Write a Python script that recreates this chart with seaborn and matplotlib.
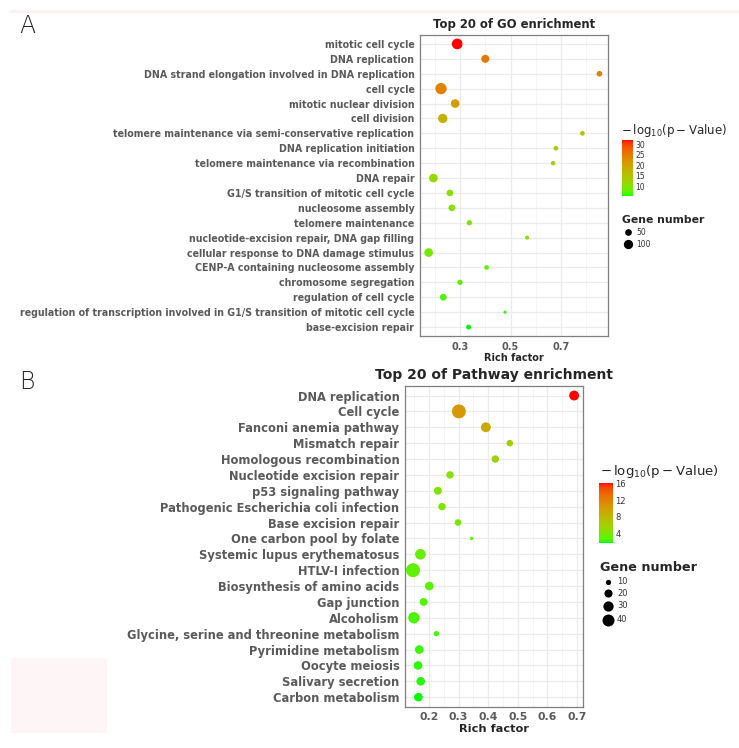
import numpy as np
import pandas as pd
import matplotlib
matplotlib.use("Agg")
import matplotlib.pyplot as plt
from matplotlib.colors import ListedColormap, Normalize
from matplotlib.cm import ScalarMappable
from matplotlib.patches import Rectangle
import seaborn as sns

# GO enrichment (panel A)
go_terms = [
    "mitotic cell cycle",
    "DNA replication",
    "DNA strand elongation involved in DNA replication",
    "cell cycle",
    "mitotic nuclear division",
    "cell division",
    "telomere maintenance via semi-conservative replication",
    "DNA replication initiation",
    "telomere maintenance via recombination",
    "DNA repair",
    "G1/S transition of mitotic cell cycle",
    "nucleosome assembly",
    "telomere maintenance",
    "nucleotide-excision repair, DNA gap filling",
    "cellular response to DNA damage stimulus",
    "CENP-A containing nucleosome assembly",
    "chromosome segregation",
    "regulation of cell cycle",
    "regulation of transcription involved in G1/S transition of mitotic cell cycle",
    "base-excision repair",
]
go_rich = [0.289, 0.400, 0.851, 0.225, 0.281, 0.232, 0.784, 0.679, 0.668, 0.195,
           0.260, 0.268, 0.337, 0.565, 0.176, 0.405, 0.300, 0.234, 0.478, 0.334]
go_logp = [31.9, 25.5, 24.5, 24.0, 21.0, 18.0, 15.0, 14.0, 13.5, 12.0,
           11.0, 10.5, 10.0, 9.5, 9.0, 8.0, 7.5, 7.0, 6.0, 5.6]
go_genes = [133, 73, 34, 150, 86, 100, 22, 22, 20, 86,
            50, 50, 30, 15, 86, 22, 30, 50, 7, 25]

# KEGG pathway enrichment (panel B)
kegg_terms = [
    "DNA replication",
    "Cell cycle",
    "Fanconi anemia pathway",
    "Mismatch repair",
    "Homologous recombination",
    "Nucleotide excision repair",
    "p53 signaling pathway",
    "Pathogenic Escherichia coli infection",
    "Base excision repair",
    "One carbon pool by folate",
    "Systemic lupus erythematosus",
    "HTLV-I infection",
    "Biosynthesis of amino acids",
    "Gap junction",
    "Alcoholism",
    "Glycine, serine and threonine metabolism",
    "Pyrimidine metabolism",
    "Oocyte meiosis",
    "Salivary secretion",
    "Carbon metabolism",
]
kegg_rich = [0.690, 0.301, 0.392, 0.473, 0.424, 0.271, 0.230, 0.244, 0.298, 0.344,
             0.171, 0.146, 0.201, 0.182, 0.149, 0.225, 0.167, 0.163, 0.172, 0.164]
kegg_logp = [16.3, 10.5, 9.0, 6.0, 5.5, 4.5, 4.2, 4.0, 3.8, 3.5,
             3.2, 3.0, 2.8, 2.6, 2.5, 2.3, 2.1, 2.0, 1.9, 1.7]
kegg_genes = [28, 53, 28, 14, 17, 17, 19, 17, 14, 6,
              32, 53, 22, 19, 36, 10, 22, 22, 22, 22]


# green -> red ramp interpolated in Lab space (like ggplot's gradient)
M = np.array([[0.4124, 0.3576, 0.1805],
              [0.2126, 0.7152, 0.0722],
              [0.0193, 0.1192, 0.9505]])
WHITE = np.array([0.95047, 1.0, 1.08883])


def to_lab(rgb):
    rgb = np.asarray(rgb, float)
    lin = np.where(rgb <= 0.04045, rgb / 12.92, ((rgb + 0.055) / 1.055) ** 2.4)
    xyz = M @ lin / WHITE
    f = np.where(xyz > 0.008856, np.cbrt(xyz), 7.787 * xyz + 16 / 116)
    return np.array([116 * f[1] - 16, 500 * (f[0] - f[1]), 200 * (f[1] - f[2])])


def from_lab(lab):
    fy = (lab[0] + 16) / 116
    f = np.array([fy + lab[1] / 500, fy, fy - lab[2] / 200])
    xyz = np.where(f ** 3 > 0.008856, f ** 3, (f - 16 / 116) / 7.787) * WHITE
    lin = np.clip(np.linalg.inv(M) @ xyz, 0, 1)
    rgb = np.where(lin <= 0.0031308, 12.92 * lin, 1.055 * lin ** (1 / 2.4) - 0.055)
    return np.clip(rgb, 0, 1)


lo_lab, hi_lab = to_lab([0, 1, 0]), to_lab([1, 0, 0])
cmap = ListedColormap([from_lab(lo_lab + t * (hi_lab - lo_lab)) for t in np.linspace(0, 1, 256)])

sns.set_style("whitegrid")
plt.rcParams["font.family"] = ["DejaVu Sans"]
plt.rcParams["mathtext.fontset"] = "dejavusans"

W, H = 739, 748
fig = plt.figure(figsize=(W / 100, H / 100), dpi=100)
LABEL_GREY = "#5A5A5A"


def fig_box(x0, y0, x1, y1):
    return [x0 / W, 1 - y1 / H, (x1 - x0) / W, (y1 - y0) / H]


def panel(box, terms, rich, logp, genes, xlim, major, minor, cnorm, size_norm, sizes,
          ysize, xsize, xlsize, title, tsize):
    ax = fig.add_axes(fig_box(*box))
    df = pd.DataFrame({"term": terms, "rich": rich, "logp": logp, "genes": genes})
    sns.scatterplot(data=df, x="rich", y="term", hue="logp", size="genes",
                    hue_norm=cnorm, palette=cmap, size_norm=size_norm, sizes=sizes,
                    linewidth=0, legend=False, ax=ax, zorder=3)
    ax.set_xlim(*xlim)
    ax.set_ylim(len(terms) - 0.4, -0.6)
    ax.set_xticks(major)
    ax.set_xticks(minor, minor=True)
    ax.grid(which="major", color="#EBEBEB", lw=0.9)
    ax.grid(which="minor", axis="x", color="#F2F2F2", lw=0.5)
    ax.set_facecolor("white")
    for s in ax.spines.values():
        s.set_color("#7F7F7F")
        s.set_linewidth(0.9)
    ax.tick_params(which="major", length=2.5, width=0.6, color="#555555",
                   labelcolor=LABEL_GREY, pad=1.5)
    ax.tick_params(which="minor", length=0)
    ax.tick_params(axis="y", labelsize=ysize)
    ax.tick_params(axis="x", labelsize=xsize)
    for t in ax.get_yticklabels() + ax.get_xticklabels():
        t.set_fontweight("bold")
    ax.set_ylabel("")
    ax.set_xlabel("Rich factor", fontsize=xlsize, fontweight="bold", labelpad=1)
    ax.set_title(title, fontsize=tsize, fontweight="bold", pad=5)
    return ax


go_norm = Normalize(5.6, 31.9)
kegg_norm = Normalize(1.7, 16.3)
go_snorm, go_sizes = (0, 150), (1.8, 66.3)
kegg_snorm, kegg_sizes = (5, 55), (4.5, 104.5)

panel((420, 35, 608, 336), go_terms, go_rich, go_logp, go_genes,
      (0.142, 0.885), [0.3, 0.5, 0.7], [0.2, 0.4, 0.6, 0.8], go_norm,
      go_snorm, go_sizes, 6.85, 7.0, 7.0, "Top 20 of GO enrichment", 8.4)
panel((405, 386, 582.7, 706.7), kegg_terms, kegg_rich, kegg_logp, kegg_genes,
      (0.119, 0.719), [0.2, 0.3, 0.4, 0.5, 0.6, 0.7],
      [0.15, 0.25, 0.35, 0.45, 0.55, 0.65], kegg_norm,
      kegg_snorm, kegg_sizes, 8.3, 7.8, 8.2, "Top 20 of Pathway enrichment", 10.0)


def colorbar(box, norm, ticks, lsize):
    cax = fig.add_axes(fig_box(*box))
    cb = fig.colorbar(ScalarMappable(norm=norm, cmap=cmap), cax=cax)
    cb.outline.set_visible(False)
    cb.set_ticks(ticks)
    cax.tick_params(length=2, width=0.5, color="white", direction="in",
                    labelsize=lsize, labelcolor="#333333", pad=2)


colorbar((621.7, 140, 632.7, 196), go_norm, [10, 15, 20, 25, 30], 5.5)
colorbar((599.3, 482.7, 612.7, 542.7), kegg_norm, [4, 8, 12, 16], 6.0)

# overlay for panel letters, legend text and decorations
ov = fig.add_axes([0, 0, 1, 1])
ov.set_xlim(0, W)
ov.set_ylim(H, 0)
ov.axis("off")
ov.patch.set_alpha(0)

ov.add_patch(Rectangle((10, 10), 729, 3, color="#FFF1F2", lw=0))
ov.add_patch(Rectangle((11, 658), 96, 75, color="#FEF5F6", lw=0))

ov.text(19, 33, "A", fontsize=17, fontweight="light", va="baseline")
ov.text(19, 389, "B", fontsize=17, fontweight="light", va="baseline")

ov.text(621, 130, r"$-\,\mathrm{log}_{10}(\mathrm{p}-\mathrm{Value})$", fontsize=8.5, va="center")
ov.text(600, 471.7, r"$-\,\mathrm{log}_{10}(\mathrm{p}-\mathrm{Value})$", fontsize=9.5, va="center")
ov.text(622, 219.7, "Gene number", fontsize=7.8, fontweight="bold", va="center")
ov.text(600, 567.3, "Gene number", fontsize=9.2, fontweight="bold", va="center")


def size_of(g, snorm, sizes):
    return sizes[0] + (g - snorm[0]) / (snorm[1] - snorm[0]) * (sizes[1] - sizes[0])


for g, y in zip([50, 100], [232.3, 244]):
    ov.scatter([628], [y], s=size_of(g, go_snorm, go_sizes), color="black", lw=0)
    ov.text(636, y, str(g), fontsize=5.5, va="center", color="#333333")
for g, y in zip([10, 20, 30, 40], [581.7, 593.3, 605.7, 620]):
    ov.scatter([607.7], [y], s=size_of(g, kegg_snorm, kegg_sizes), color="black", lw=0)
    ov.text(617, y, str(g), fontsize=6.0, va="center", color="#333333")

fig.savefig("out.png", dpi=100)
